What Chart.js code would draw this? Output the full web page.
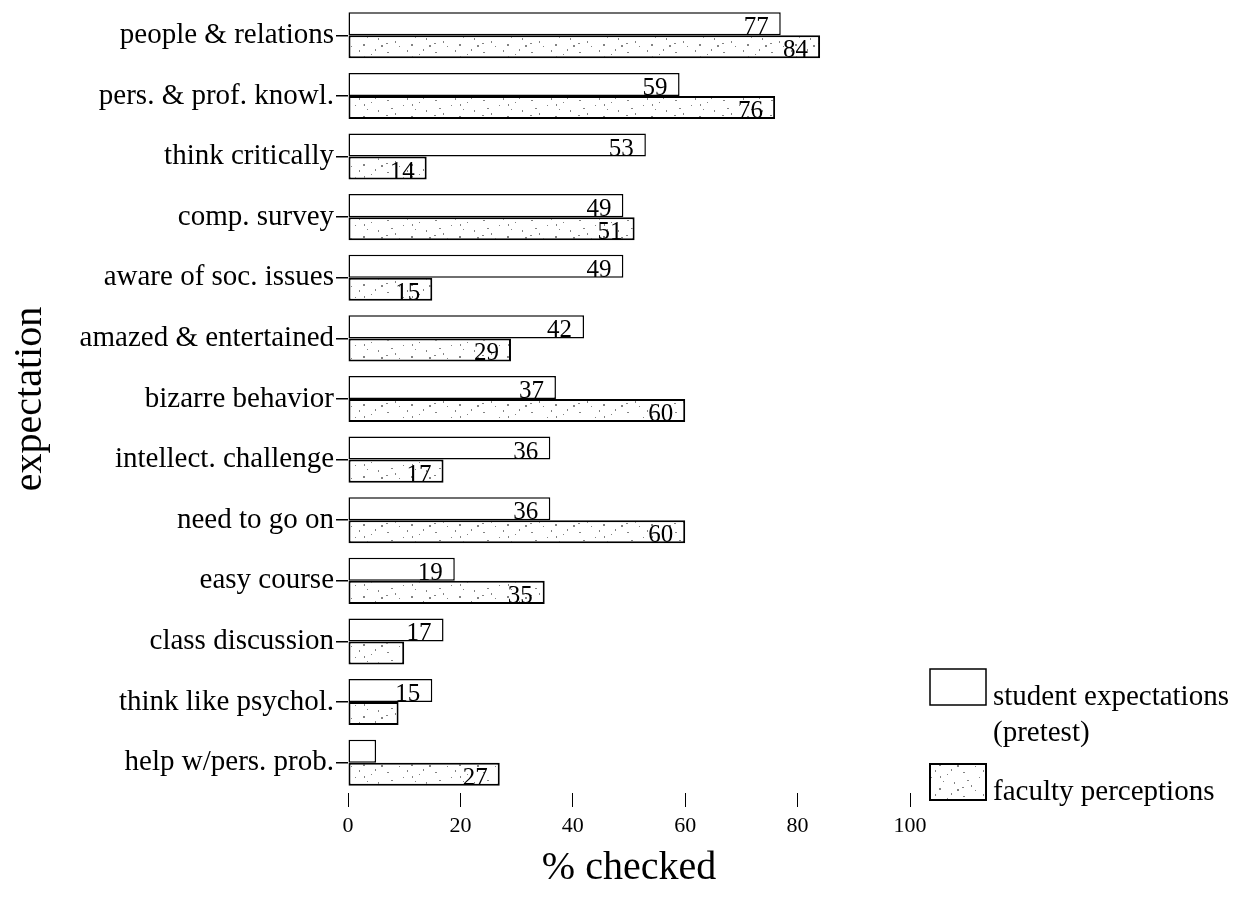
<!DOCTYPE html>
<html>
<head>
<meta charset="utf-8">
<script src="https://cdn.jsdelivr.net/npm/chart.js@4.4.1/dist/chart.umd.min.js"></script>
<style>
  html, body { margin: 0; padding: 0; background: #fff; }
  #wrap { width: 1257px; height: 908px; position: relative; }
</style>
</head>
<body>
<div id="wrap"><canvas id="chart-expectations"></canvas></div>
<script>
// data
const categories = [
    "people & relations",
    "pers. & prof. knowl.",
    "think critically",
    "comp. survey",
    "aware of soc. issues",
    "amazed & entertained",
    "bizarre behavior",
    "intellect. challenge",
    "need to go on",
    "easy course",
    "class discussion",
    "think like psychol.",
    "help w/pers. prob.",
];
const studentValues = [77, 59, 53, 49, 49, 42, 37, 36, 36, 19, 17, 15, 5];
const facultyValues = [84, 76, 14, 51, 15, 29, 60, 17, 60, 35, 10, 9, 27];
// printed numbers (blank where the figure has none)
const studentLabels = ["77", "59", "53", "49", "49", "42", "37", "36", "36", "19", "17", "15", ""];
const facultyLabels = ["84", "76", "14", "51", "15", "29", "60", "17", "60", "35", "", "", "27"];
const xTicks = [0, 20, 40, 60, 80, 100];

const SERIF = "'Liberation Serif', 'DejaVu Serif', serif";

// speckled fill for the faculty bars
function createSpecklePattern() {
    const c = document.createElement("canvas");
    c.width = 48;
    c.height = 24;
    const g = c.getContext("2d");
    g.fillStyle = "#fff";
    g.fillRect(0, 0, 48, 24);
    g.fillStyle = "rgba(90,90,90,0.75)";
    const dots = [
        [3, 4], [11, 17], [19, 9], [27, 20], [35, 6], [42, 14], [7, 12],
        [23, 2], [31, 13], [45, 21], [15, 22], [39, 1], [2, 19], [28, 8],
    ];
    dots.forEach(([x, y], i) => g.fillRect(x, y, i % 3 === 0 ? 2 : 1, i % 2 === 0 ? 1 : 2));
    return g.createPattern(c, "repeat");
}

const barLabels = {
    id: "barLabels",
    afterDatasetsDraw(chart) {
        const ctx = chart.ctx;
        ctx.save();
        ctx.font = "25px " + SERIF;
        ctx.fillStyle = "#000";
        ctx.textAlign = "right";
        ctx.textBaseline = "alphabetic";
        [studentLabels, facultyLabels].forEach((labels, di) => {
            chart.getDatasetMeta(di).data.forEach((bar, i) => {
                if (!labels[i]) return;
                const bottom = bar.y + bar.height / 2;
                ctx.fillText(labels[i], bar.x - 12, bottom - 1);
            });
        });
        ctx.restore();
    },
};

const sideLegend = {
    id: "sideLegend",
    afterDraw(chart) {
        const ctx = chart.ctx;
        const x0 = chart.chartArea.right + 20;
        const items = [
            { y: 669, lines: ["student expectations", "(pretest)"], ds: 0 },
            { y: 764, lines: ["faculty perceptions"], ds: 1 },
        ];
        ctx.save();
        items.forEach((it) => {
            const ds = chart.data.datasets[it.ds];
            ctx.fillStyle = ds.backgroundColor;
            ctx.fillRect(x0, it.y, 56, 36);
            ctx.lineWidth = ds.borderWidth;
            ctx.strokeStyle = "#000";
            ctx.strokeRect(x0, it.y, 56, 36);
            ctx.fillStyle = "#000";
            ctx.font = "29px " + SERIF;
            ctx.textAlign = "left";
            ctx.textBaseline = "alphabetic";
            it.lines.forEach((t, k) => ctx.fillText(t, x0 + 63, it.y + 36 + k * 36));
        });
        ctx.restore();
    },
};

function initExpectationChart() {
    const canvas = document.getElementById("chart-expectations");
    if (!canvas) return;

    const config = {
        type: "bar",
        data: {
            labels: categories,
            datasets: [
                {
                    label: "student expectations (pretest)",
                    data: studentValues,
                    backgroundColor: "#fff",
                    borderColor: "#000",
                    borderWidth: 1.5,
                    borderSkipped: false,
                    barPercentage: 1,
                    categoryPercentage: 0.76,
                },
                {
                    label: "faculty perceptions",
                    data: facultyValues,
                    backgroundColor: createSpecklePattern(),
                    borderColor: "#000",
                    borderWidth: 2,
                    borderSkipped: false,
                    barPercentage: 1,
                    categoryPercentage: 0.76,
                },
            ],
        },
        options: {
            indexAxis: "y",
            responsive: true,
            maintainAspectRatio: false,
            animation: false,
            layout: { padding: { top: 5, right: 347, left: 0, bottom: 0 } },
            plugins: {
                legend: { display: false },
                tooltip: { enabled: false },
            },
            scales: {
                y: {
                    offset: true,
                    border: { display: false },
                    grid: {
                        drawOnChartArea: false,
                        offset: false,
                        tickLength: 12,
                        color: "#000",
                        lineWidth: 1.5,
                    },
                    ticks: {
                        color: "#000",
                        padding: 2,
                        font: { family: SERIF, size: 29 },
                    },
                    title: {
                        display: true,
                        text: "expectation",
                        color: "#000",
                        font: { family: SERIF, size: 40 },
                        padding: { top: 6, bottom: 0 },
                    },
                    afterFit: (scale) => {
                        scale.width = 348;
                        scale.paddingTop = 0;
                        scale.paddingBottom = 0;
                    },
                },
                x: {
                    min: 0,
                    max: 100,
                    afterBuildTicks: (scale) => {
                        scale.ticks = xTicks.map((v) => ({ value: v }));
                    },
                    border: { display: false },
                    grid: {
                        drawOnChartArea: false,
                        tickLength: 14,
                        color: "#000",
                        lineWidth: 1,
                    },
                    ticks: {
                        color: "#000",
                        padding: 6,
                        font: { family: SERIF, size: 22 },
                    },
                    title: {
                        display: true,
                        text: "% checked",
                        color: "#000",
                        font: { family: SERIF, size: 40 },
                        padding: { top: 0, bottom: 16 },
                    },
                    afterFit: (scale) => {
                        scale.height = 115;
                        scale.paddingLeft = 0;
                        scale.paddingRight = 0;
                    },
                },
            },
        },
        plugins: [barLabels, sideLegend],
    };

    canvas.chart = new Chart(canvas, config);
}

initExpectationChart();
</script>
</body>
</html>
